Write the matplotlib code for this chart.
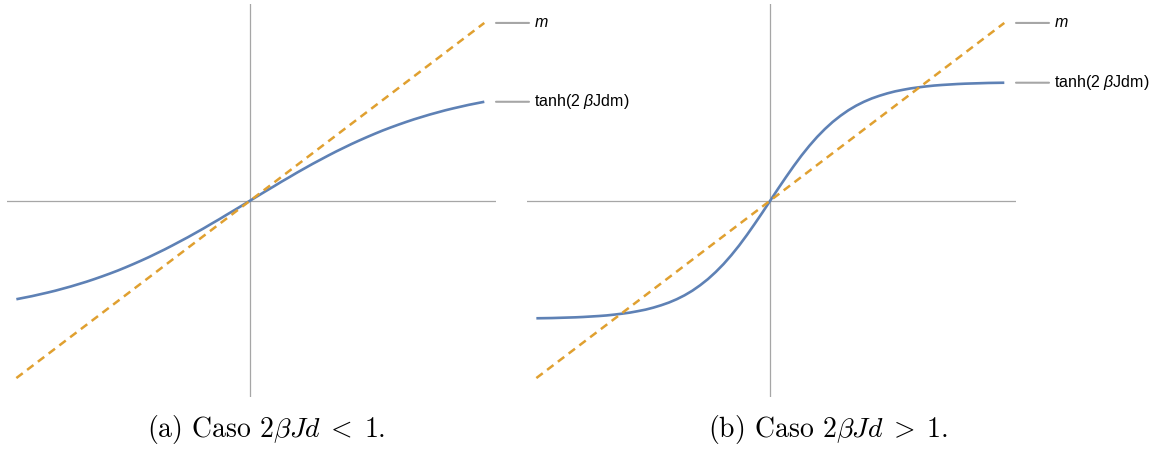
#!/usr/bin/env python3
"""Two panels: tanh(2 beta J d m) against m, for 2bJd < 1 and 2bJd > 1."""

import numpy as np
import matplotlib
matplotlib.use("Agg")
import matplotlib.pyplot as plt

plt.rcParams['mathtext.fontset'] = 'custom'
plt.rcParams['mathtext.rm'] = 'Liberation Sans'
plt.rcParams['mathtext.it'] = 'Liberation Sans:italic'

# values (m >= 0 half, curves are odd)
m_half = [0.00, 0.05, 0.10, 0.15, 0.20, 0.25, 0.30, 0.35, 0.40, 0.45,
          0.50, 0.55, 0.60, 0.65, 0.70, 0.75, 0.80, 0.85, 0.90, 0.95,
          1.00, 1.05, 1.10, 1.15, 1.20, 1.25, 1.30, 1.35, 1.40, 1.45, 1.50]
tanh_weak_half = [0.000, 0.040, 0.080, 0.119, 0.159, 0.197, 0.236, 0.273,
                  0.310, 0.345, 0.380, 0.414, 0.446, 0.478, 0.508, 0.537,
                  0.565, 0.592, 0.617, 0.641, 0.664, 0.686, 0.706, 0.726,
                  0.744, 0.762, 0.778, 0.793, 0.808, 0.821, 0.834]
tanh_strong_half = [0.000, 0.100, 0.197, 0.291, 0.380, 0.462, 0.537, 0.604,
                    0.664, 0.716, 0.762, 0.801, 0.834, 0.862, 0.885, 0.905,
                    0.922, 0.935, 0.947, 0.956, 0.964, 0.971, 0.976, 0.980,
                    0.984, 0.987, 0.989, 0.991, 0.993, 0.994, 0.995]

captions = [r"(a) Caso $2\beta Jd\;<\;1$.", r"(b) Caso $2\beta Jd\;>\;1$."]
label_m = r"$m$"
label_tanh = r"tanh(2 $\beta$Jdm)"


def mirror(half):
    half = np.asarray(half)
    return np.concatenate([-half[::-1], half[1:]])


m = mirror(m_half)
curves = [mirror(tanh_weak_half), mirror(tanh_strong_half)]

BLUE = '#5E81B5'
ORANGE = '#E0A030'
AXIS = '#a6a6a6'

W, H = 1156, 450
AX_W = 489
fig = plt.figure(figsize=(W / 100, H / 100), dpi=100)

panel_left = [7, 527]
for i, curve in enumerate(curves):
    ax = fig.add_axes([panel_left[i] / W, 1 - 397 / H, AX_W / W, 393 / H])
    ax.set_xlim(-1.56, 1.575)
    ax.set_ylim(-1.66, 1.66)
    ax.axis('off')
    ax.axhline(0, color=AXIS, lw=0.9, zorder=1)
    ax.axvline(0, color=AXIS, lw=0.9, zorder=1)

    ax.plot(m, curve, color=BLUE, lw=1.9, zorder=2, solid_capstyle='butt')
    ax.plot(m, m, color=ORANGE, lw=1.8, ls=(0, (3.2, 2.2)), zorder=3)

    # Mathematica-style labels to the right of each curve
    for yv, txt in [(m[-1], label_m), (curve[-1], label_tanh)]:
        ax.annotate('', xy=(1.0, yv), xycoords=('axes fraction', 'data'),
                    xytext=(1.0 + 33 / AX_W, yv),
                    textcoords=('axes fraction', 'data'),
                    arrowprops=dict(arrowstyle='-', color=AXIS, lw=1.5,
                                    shrinkA=0, shrinkB=0))
        ax.annotate(txt, xy=(1.0, yv), xycoords=('axes fraction', 'data'),
                    xytext=(38, 0), textcoords='offset pixels',
                    ha='left', va='center', fontsize=11.5,
                    family='Liberation Sans', annotation_clip=False)

caption_x = [266 / W, 828 / W]
for cx, cap in zip(caption_x, captions):
    fig.text(cx, 1 - 430 / H, cap, ha='center', va='center', fontsize=20,
             family='cmr10', math_fontfamily='cm')

fig.savefig('out.png', dpi=100)
plt.close(fig)
